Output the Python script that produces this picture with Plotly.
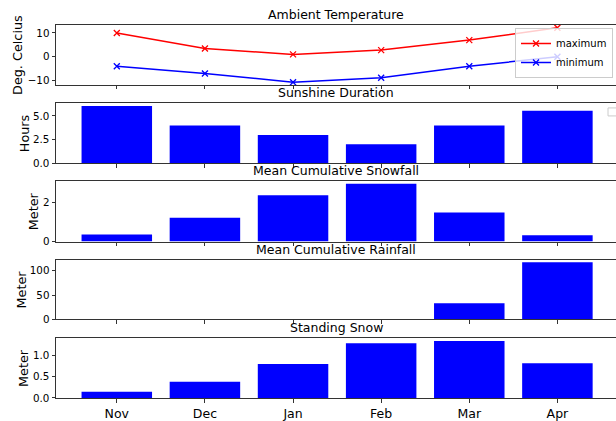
import plotly.graph_objects as go
from plotly.subplots import make_subplots

# ---- data ----
months = ["Nov", "Dec", "Jan", "Feb", "Mar", "Apr"]
temp_max = [10.0, 3.5, 1.0, 2.8, 7.0, 12.2]
temp_min = [-4.0, -7.0, -10.7, -8.8, -4.0, 0.0]
sunshine_hours = [6.05, 4.0, 3.0, 2.0, 4.0, 5.55]
snowfall_m = [0.35, 1.2, 2.35, 2.93, 1.47, 0.32]
rainfall_m = [0, 0, 0, 0, 33, 117]
standing_snow_m = [0.15, 0.38, 0.80, 1.29, 1.345, 0.82]

titles = ["Ambient Temperature", "Sunshine Duration", "Mean Cumulative Snowfall",
          "Mean Cumulative Rainfall", "Standing Snow"]
ylabels = ["Deg. Celcius", "Hours", "Meter", "Meter", "Meter"]

# ---- layout constants (page pixels) ----
W, H = 616, 421
AX_LEFT, AX_TOP, AX_BOTTOM = 56, 25, 398.3
L, R, T, B = AX_LEFT, 0, AX_TOP, H - AX_BOTTOM
PW, PH = W - L - R, H - T - B
panel_px = [(25, 85), (103.3, 163.3), (181, 241.7), (259.7, 319.7), (338.3, 398.3)]
ylabel_x_px = [18, 24, 33, 21, 23]
FONT = "DejaVu Sans"
SPINE = "#333333"

def py(px):
    return (AX_BOTTOM - px) / PH

def pxx(px):
    return (px - AX_LEFT) / PW

fig = make_subplots(rows=5, cols=1, shared_xaxes=True)

fig.add_trace(go.Scatter(x=months, y=temp_max, name="maximum", mode="lines+markers",
                         line=dict(color="red", width=1.5),
                         marker=dict(symbol="x-thin", size=6, line=dict(color="red", width=1.3))),
              row=1, col=1)
fig.add_trace(go.Scatter(x=months, y=temp_min, name="minimum", mode="lines+markers",
                         line=dict(color="blue", width=1.5),
                         marker=dict(symbol="x-thin", size=6, line=dict(color="blue", width=1.3))),
              row=1, col=1)

bar_series = [sunshine_hours, snowfall_m, rainfall_m, standing_snow_m]
for i, vals in enumerate(bar_series):
    fig.add_trace(go.Bar(x=months, y=vals, width=0.8, marker=dict(color="blue", line=dict(width=0)),
                         showlegend=False), row=i + 2, col=1)

# y ranges like matplotlib autoscale
lo = min(temp_min); hi = max(temp_max); m = (hi - lo) * 0.05
yranges = [[lo - m, hi + m]] + [[0, max(v) * 1.05] for v in bar_series]
ydticks = [10, 2.5, 2, 50, 0.5]
yfmt = ["d", ".1f", "d", "d", ".1f"]

axis_common = dict(showline=True, mirror=True, linecolor=SPINE, linewidth=1,
                   ticks="outside", ticklen=3.5, tickwidth=0.8, tickcolor=SPINE,
                   showgrid=False, zeroline=False)

for i in range(5):
    top, bot = panel_px[i]
    yname = "yaxis" if i == 0 else f"yaxis{i+1}"
    xname = "xaxis" if i == 0 else f"xaxis{i+1}"
    fig.layout[yname].update(domain=[py(bot), py(top)], range=yranges[i], dtick=ydticks[i],
                             tick0=0, tickformat=yfmt[i],
                             tickfont=dict(family=FONT, size=10.3, color="black"), **axis_common)
    fig.layout[xname].update(range=[-0.69, 5.665], tickfont=dict(family=FONT, size=12.5, color="black"),
                             **axis_common)
    fig.add_annotation(text=titles[i], xref="paper", yref="paper", x=0.5, y=py(top),
                       xanchor="center", yanchor="bottom", yshift=1, showarrow=False,
                       font=dict(family=FONT, size=12.5, color="black"))
    fig.add_annotation(text=ylabels[i], xref="paper", yref="paper", x=pxx(ylabel_x_px[i]),
                       y=(py(top) + py(bot)) / 2, xanchor="center", yanchor="middle",
                       textangle=-90, showarrow=False,
                       font=dict(family=FONT, size=12.8, color="black"))

# empty legend frame on the second panel
fig.add_shape(type="rect", xref="paper", yref="paper", x0=pxx(608), x1=pxx(617),
              y0=py(116), y1=py(108), line=dict(color="#cccccc", width=1))

fig.update_layout(
    width=W, height=H, margin=dict(l=L, r=R, t=T, b=B, autoexpand=False),
    plot_bgcolor="white", paper_bgcolor="white",
    font=dict(family=FONT, color="black"),
    showlegend=True,
    legend=dict(x=pxx(515), y=py(28), xanchor="left", yanchor="top",
                bgcolor="rgba(255,255,255,0.8)", bordercolor="#cccccc", borderwidth=1,
                font=dict(family=FONT, size=10), itemwidth=30, tracegroupgap=0),
)

fig.write_html("out.html", config={"displayModeBar": False},
               post_script="document.body.style.margin='0';document.body.style.overflow='hidden';")
